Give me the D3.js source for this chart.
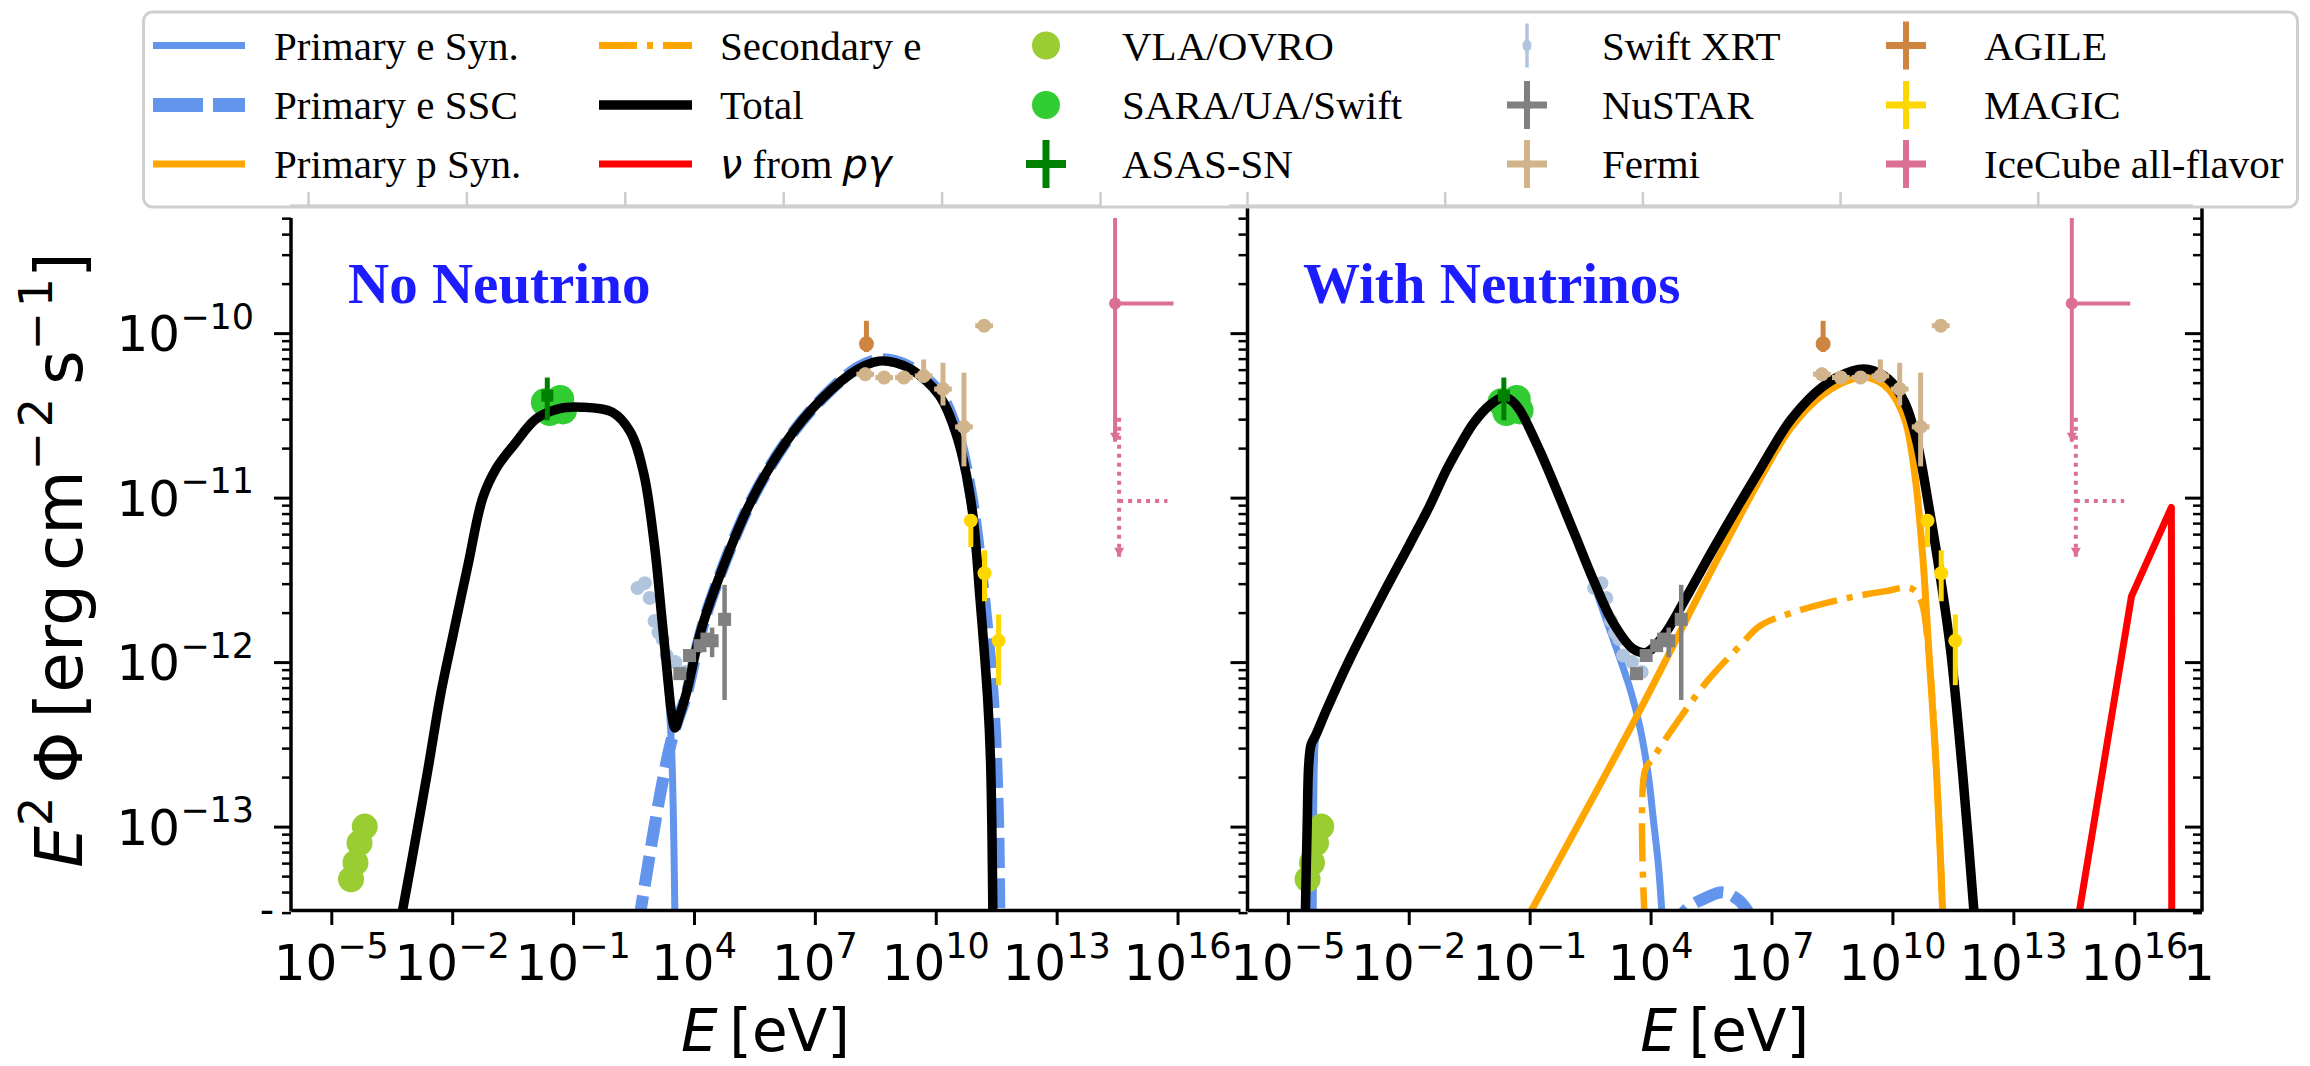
<!DOCTYPE html>
<html>
<head>
<meta charset="utf-8">
<script src="https://cdn.jsdelivr.net/npm/d3@7"></script>
<style>
  body { margin: 0; background: #fff; }
  svg { display: block; }
</style>
</head>
<body>
<svg id="fig" width="2310" height="1066"></svg>
<script>
// ---------------------------------------------------------------
// Broadband SED of the flare: leptonic model vs. lepto-hadronic model.
// Curve points are [log10(E / eV), log10(E^2 Phi / erg cm^-2 s^-1)].
// ---------------------------------------------------------------

// axis ticks
const X_TICK_EXP = [-5, -2, 1, 4, 7, 10, 13, 16];
const X_TICK_LABELS = [["10","−5"],["10","−2"],["10","−1"],["10","4"],["10","7"],["10","10"],["10","13"],["10","16"]];
const Y_TICK_EXP = [-13, -12, -11, -10];
const Y_TICK_LABELS = [["10","−13"],["10","−12"],["10","−11"],["10","−10"]];

// ---- model curves, panel "No Neutrino" ----
const TOTAL_NO_NU = [[-3.30,-13.60],[-3.00,-13.20],[-2.60,-12.65],[-2.29,-12.20],[-2.00,-11.86],[-1.60,-11.40],
  [-1.24,-11.00],[-0.90,-10.82],[-0.47,-10.68],[0.09,-10.52],[0.64,-10.46],[1.19,-10.45],[1.97,-10.48],
  [2.42,-10.60],[2.75,-10.85],[3.02,-11.29],[3.19,-11.70],[3.35,-12.10],[3.45,-12.32],[3.53,-12.40],
  [3.65,-12.32],[3.81,-12.19],[4.16,-11.82],[4.51,-11.56],[5.40,-11.03],[6.29,-10.66],[7.17,-10.40],
  [8.06,-10.22],[8.59,-10.17],[9.00,-10.18],[9.39,-10.22],[10.09,-10.38],[10.54,-10.64],[10.89,-11.05],
  [11.10,-11.62],[11.29,-12.23],[11.36,-12.60],[11.42,-13.60]];
const SYN_NO_NU = [[-3.30,-13.60],[-3.00,-13.20],[-2.60,-12.65],[-2.29,-12.20],[-2.00,-11.86],[-1.60,-11.40],
  [-1.24,-11.00],[-0.90,-10.82],[-0.47,-10.68],[0.09,-10.52],[0.64,-10.46],[1.19,-10.45],[1.97,-10.48],
  [2.42,-10.60],[2.75,-10.85],[3.02,-11.29],[3.19,-11.72],[3.35,-12.15],[3.44,-12.50],[3.49,-12.95],[3.53,-13.60]];
const SSC_NO_NU = [[2.62,-13.60],[2.69,-13.49],[3.18,-12.78],[3.47,-12.45],[3.81,-12.20],[4.16,-11.83],
  [4.51,-11.56],[5.40,-11.03],[6.29,-10.66],[7.17,-10.40],[8.06,-10.21],[8.59,-10.16],[9.00,-10.17],
  [9.39,-10.21],[10.09,-10.36],[10.54,-10.61],[10.89,-11.00],[11.15,-11.50],[11.35,-12.00],[11.47,-12.43],
  [11.55,-13.00],[11.58,-13.60]];

// ---- model curves, panel "With Neutrinos" ----
const TOTAL_WITH_NU = [[-4.57,-13.60],[-4.52,-13.00],[-4.48,-12.62],[-4.42,-12.50],[-4.30,-12.44],[-4.04,-12.29],
  [-3.46,-11.98],[-2.71,-11.62],[-1.97,-11.28],[-1.50,-11.06],[-1.06,-10.83],[-0.70,-10.67],[-0.40,-10.55],
  [0.00,-10.44],[0.35,-10.39],[0.55,-10.41],[0.76,-10.47],[1.26,-10.72],[2.08,-11.20],[2.58,-11.50],
  [3.07,-11.76],[3.57,-11.92],[3.90,-11.94],[4.32,-11.84],[4.81,-11.64],[5.56,-11.31],[6.71,-10.83],
  [7.50,-10.52],[8.30,-10.32],[9.00,-10.23],[9.40,-10.22],[9.90,-10.28],[10.30,-10.42],[10.60,-10.65],
  [10.90,-11.05],[11.20,-11.50],[11.44,-11.92],[11.75,-12.70],[12.05,-13.60]];
const SYN_WITH_NU = [[-4.37,-13.60],[-4.36,-13.00],[-4.34,-12.60],[-4.30,-12.46],[-4.04,-12.30],[-3.46,-11.98],
  [-2.71,-11.62],[-1.97,-11.28],[-1.50,-11.06],[-1.06,-10.83],[-0.70,-10.67],[-0.40,-10.55],[0.00,-10.44],
  [0.35,-10.39],[0.55,-10.41],[0.76,-10.47],[1.26,-10.72],[2.08,-11.20],[2.58,-11.52],[2.91,-11.75],
  [3.20,-11.95],[3.50,-12.17],[3.74,-12.40],[3.95,-12.70],[4.07,-12.96],[4.20,-13.25],[4.30,-13.60]];
const SSC_WITH_NU = [[4.50,-13.65],[4.90,-13.50],[5.40,-13.43],[5.80,-13.40],[6.20,-13.45],[6.50,-13.55],[6.70,-13.65]];
const PSYN_WITH_NU = [[0.84,-13.60],[3.74,-12.29],[5.39,-11.50],[6.71,-10.89],[7.50,-10.57],[8.30,-10.37],
  [9.00,-10.28],[9.40,-10.27],[9.90,-10.34],[10.30,-10.52],[10.55,-10.85],[10.75,-11.35],[10.90,-11.92],
  [11.10,-12.70],[11.26,-13.60]];
const SEC_WITH_NU = [[3.86,-13.60],[3.86,-12.66],[4.07,-12.58],[4.56,-12.40],[5.39,-12.12],[6.22,-11.90],
  [6.71,-11.78],[7.50,-11.70],[8.70,-11.62],[9.80,-11.57],[10.45,-11.55],[10.70,-11.62],[10.90,-11.95],
  [11.10,-12.70],[11.26,-13.60]];
const NU_WITH_NU = [[14.58,-13.60],[15.93,-11.60],[16.92,-11.06],[16.93,-13.60]];

// ---- observations ----
const VLA_E = [-4.17, -4.30, -4.40, -4.51];
const VLA_F = [-13.00, -13.10, -13.22, -13.32];
const SARA_E = [0.30, 0.42, 0.55, 0.68, 0.75];
const SARA_F = [-10.42, -10.48, -10.44, -10.40, -10.47];
const ASASSN_E = [0.36];
const ASASSN_F = [-10.38];
const ASASSN_FLO = [-10.53];
const ASASSN_FHI = [-10.27];
const XRT_E = [2.60, 2.78, 2.90, 3.02, 3.12, 3.22, 3.32, 3.54, 3.78];
const XRT_F = [-11.55, -11.52, -11.61, -11.75, -11.82, -11.86, -11.96, -12.00, -12.06];
const XRT_FLO = [-11.58, -11.55, -11.64, -11.78, -11.85, -11.89, -11.99, -12.03, -12.09];
const XRT_FHI = [-11.52, -11.49, -11.58, -11.72, -11.79, -11.83, -11.93, -11.97, -12.03];
const NUSTAR_E = [3.65, 3.89, 4.15, 4.32, 4.45, 4.76];
const NUSTAR_F = [-12.07, -11.96, -11.90, -11.86, -11.87, -11.74];
const NUSTAR_FLO = [-12.10, -11.99, -11.93, -11.89, -11.97, -12.23];
const NUSTAR_FHI = [-12.04, -11.93, -11.87, -11.83, -11.79, -11.53];
const NUSTAR_ELO = [3.56, 3.79, 4.06, 4.24, 4.37, 4.70];
const NUSTAR_EHI = [3.74, 3.99, 4.24, 4.40, 4.53, 4.82];
const FERMI_E = [8.25, 8.72, 9.21, 9.70, 10.18, 10.70, 11.20];
const FERMI_F = [-10.25, -10.27, -10.27, -10.26, -10.34, -10.57, -9.955];
const FERMI_FLO = [-10.29, -10.31, -10.31, -10.30, -10.44, -10.81, -9.97];
const FERMI_FHI = [-10.21, -10.23, -10.23, -10.16, -10.18, -10.24, -9.94];
const FERMI_ELO = [8.03, 8.50, 8.99, 9.48, 9.96, 10.48, 10.98];
const FERMI_EHI = [8.47, 8.94, 9.43, 9.92, 10.40, 10.92, 11.42];
const AGILE_E = [8.28];
const AGILE_F = [-10.065];
const AGILE_FLO = [-10.115];
const AGILE_FHI = [-9.925];
const MAGIC_E = [10.87, 11.21, 11.56];
const MAGIC_F = [-11.14, -11.46, -11.87];
const MAGIC_FLO = [-11.30, -11.63, -12.14];
const MAGIC_FHI = [-11.10, -11.32, -11.71];
const MAGIC_ELO = [10.82, 11.16, 11.51];
const MAGIC_EHI = [10.92, 11.26, 11.61];
// IceCube all-flavour upper limits (solid and dotted estimates)
const ICECUBE_E = [14.45, 14.55];
const ICECUBE_F = [-9.82, -11.02];
const ICECUBE_FLO = [-10.66, -11.36];
const ICECUBE_FHI = [-8.90, -10.50];
const ICECUBE_EHI = [15.90, 15.75];

// ---- layout ----
const W = 2310, H = 1066;
const PANEL_TOP = 218, PANEL_BOTTOM = 910;
const LOG_F_MIN = -13.507, LOG_F_MAX = -9.30;
const SANS = "'DejaVu Sans', 'Bitstream Vera Sans', sans-serif";
const SERIF = "'Liberation Serif', 'Times New Roman', serif";

const COLORS = {
  syn: "#6495ed", ssc: "#6495ed", psyn: "#ffa500", sec: "#ffa500", total: "#000000", nu: "#ff0000",
  vla: "#9acd32", sara: "#32cd32", asassn: "#008000", xrt: "#b0c4de", nustar: "#808080",
  fermi: "#d2b48c", agile: "#cd853f", magic: "#ffd700", icecube: "#db7093", title: "#1c1cff"
};

const PANELS = [
  { id: "noNu", left: 291, right: 1240, eMaxExp: 17.55, title: "No Neutrino", titleX: 348, spineTop: 218, yLabels: true },
  { id: "withNu", left: 1247.5, right: 2202, eMaxExp: 17.68, title: "With Neutrinos", titleX: 1303, spineTop: 207, yLabels: false }
];

const svg = d3.select("#fig");
svg.append("rect").attr("width", W).attr("height", H).attr("fill", "#fff");
const defs = svg.append("defs");

function sci(textSel, pair, size) {
  textSel.append("tspan").text(pair[0]);
  textSel.append("tspan").attr("dy", -0.45 * size).attr("font-size", 0.7 * size).text(pair[1]);
}

function drawCurve(g, sx, sy, pts, opt) {
  const gen = d3.line()
    .x(d => sx(10 ** d[0]))
    .y(d => sy(10 ** d[1]))
    .curve(opt.linear ? d3.curveLinear : d3.curveCatmullRom.alpha(0.5));
  g.append("path")
    .attr("d", gen(pts))
    .attr("fill", "none")
    .attr("stroke", opt.color)
    .attr("stroke-width", opt.width)
    .attr("stroke-dasharray", opt.dash || null)
    .attr("stroke-linejoin", "round")
    .attr("stroke-linecap", opt.dash ? "butt" : "round");
}

function drawPoints(g, sx, sy, s) {
  s.e.forEach((le, i) => {
    const cx = sx(10 ** le), cy = sy(10 ** s.f[i]);
    if (s.fLo) {
      g.append("line").attr("x1", cx).attr("x2", cx)
        .attr("y1", sy(10 ** s.fLo[i])).attr("y2", sy(10 ** s.fHi[i]))
        .attr("stroke", s.color).attr("stroke-width", s.lw)
        .attr("stroke-dasharray", s.dash ? s.dash[i] : null);
    }
    if (s.eLo || s.eHi) {
      const x1 = s.eLo ? sx(10 ** s.eLo[i]) : cx;
      g.append("line").attr("x1", x1).attr("x2", sx(10 ** s.eHi[i]))
        .attr("y1", cy).attr("y2", cy)
        .attr("stroke", s.color).attr("stroke-width", s.lw)
        .attr("stroke-dasharray", s.dash ? s.dash[i] : null);
    }
    if (s.arrow) {
      const ay = sy(10 ** s.fLo[i]);
      g.append("path").attr("d", `M${cx - 5},${ay - 9}L${cx + 5},${ay - 9}L${cx},${ay}Z`).attr("fill", s.color);
    }
    if (s.marker === "circle" && (!s.noMarker || !s.noMarker[i])) {
      g.append("circle").attr("cx", cx).attr("cy", cy).attr("r", s.r).attr("fill", s.color);
    } else if (s.marker === "square") {
      g.append("rect").attr("x", cx - s.r).attr("y", cy - s.r).attr("width", 2 * s.r).attr("height", 2 * s.r).attr("fill", s.color);
    }
  });
}

// observation sets (shared by both panels)
const OBS_BACK = [
  { e: VLA_E, f: VLA_F, color: COLORS.vla, marker: "circle", r: 13 },
  { e: SARA_E, f: SARA_F, color: COLORS.sara, marker: "circle", r: 14 },
  { e: XRT_E, f: XRT_F, fLo: XRT_FLO, fHi: XRT_FHI, color: COLORS.xrt, marker: "circle", r: 7, lw: 3 }
];
const OBS_FRONT = [
  { e: NUSTAR_E, f: NUSTAR_F, fLo: NUSTAR_FLO, fHi: NUSTAR_FHI, eLo: NUSTAR_ELO, eHi: NUSTAR_EHI, color: COLORS.nustar, marker: "square", r: 6.5, lw: 4.5 },
  { e: ASASSN_E, f: ASASSN_F, fLo: ASASSN_FLO, fHi: ASASSN_FHI, color: COLORS.asassn, marker: "square", r: 6, lw: 5 },
  { e: FERMI_E, f: FERMI_F, fLo: FERMI_FLO, fHi: FERMI_FHI, eLo: FERMI_ELO, eHi: FERMI_EHI, color: COLORS.fermi, marker: "circle", r: 7, lw: 5 },
  { e: AGILE_E, f: AGILE_F, fLo: AGILE_FLO, fHi: AGILE_FHI, color: COLORS.agile, marker: "circle", r: 7.5, lw: 5 },
  { e: MAGIC_E, f: MAGIC_F, fLo: MAGIC_FLO, fHi: MAGIC_FHI, eLo: MAGIC_ELO, eHi: MAGIC_EHI, color: COLORS.magic, marker: "circle", r: 7, lw: 5 },
  { e: ICECUBE_E, f: ICECUBE_F, fLo: ICECUBE_FLO, fHi: ICECUBE_FHI, eHi: ICECUBE_EHI, color: COLORS.icecube, marker: "circle", r: 6, lw: 4, arrow: true, dash: [null, "4 5"], noMarker: [false, true] }
];

// hidden strip axes that sit under the legend (ticks seen through it)
const STRIPS = [{ from: 308, to: 1100, ticks: [0, 0.2, 0.4, 0.6, 0.8, 1.0] }, { from: 1247, to: 2235.5, ticks: [0, 0.2, 0.4, 0.6, 0.8] }];
STRIPS.forEach(st => {
  const s = d3.scaleLinear().domain([0, 1]).range([st.from, st.to]);
  const g = svg.append("g").attr("transform", `translate(0,206)`)
    .call(d3.axisTop(s).tickValues(st.ticks).tickSize(14).tickSizeOuter(0).tickFormat(""));
  g.select(".domain").attr("stroke-width", 3).attr("d", `M${st.from - 18},0H${Math.min(st.to, 2193)}`);
  g.selectAll(".tick line").attr("stroke-width", 2.5);
});

PANELS.forEach(p => {
  const sx = d3.scaleLog().domain([1e-6, 10 ** p.eMaxExp]).range([p.left, p.right]);
  const sy = d3.scaleLog().domain([10 ** LOG_F_MIN, 10 ** LOG_F_MAX]).range([PANEL_BOTTOM, PANEL_TOP]);

  defs.append("clipPath").attr("id", "clip-" + p.id)
    .append("rect").attr("x", p.left).attr("y", PANEL_TOP).attr("width", p.right - p.left).attr("height", PANEL_BOTTOM - PANEL_TOP);
  const plot = svg.append("g").attr("clip-path", `url(#clip-${p.id})`);

  if (p.id === "noNu") {
    drawCurve(plot, sx, sy, SSC_NO_NU, { color: COLORS.ssc, width: 12, dash: "30 10" });
    drawCurve(plot, sx, sy, SYN_NO_NU, { color: COLORS.syn, width: 7 });
  } else {
    drawCurve(plot, sx, sy, SSC_WITH_NU, { color: COLORS.ssc, width: 12, dash: "30 10" });
    drawCurve(plot, sx, sy, SYN_WITH_NU, { color: COLORS.syn, width: 7 });
    drawCurve(plot, sx, sy, SEC_WITH_NU, { color: COLORS.sec, width: 6.5, dash: "38 10 6 10" });
    drawCurve(plot, sx, sy, PSYN_WITH_NU, { color: COLORS.psyn, width: 7 });
    drawCurve(plot, sx, sy, NU_WITH_NU, { color: COLORS.nu, width: 7, linear: true });
  }
  OBS_BACK.forEach(s => drawPoints(plot, sx, sy, s));
  drawCurve(plot, sx, sy, p.id === "noNu" ? TOTAL_NO_NU : TOTAL_WITH_NU, { color: COLORS.total, width: 9.5 });
  OBS_FRONT.forEach(s => drawPoints(plot, sx, sy, s));

  // panel title
  svg.append("text").attr("x", p.titleX).attr("y", 303)
    .attr("font-family", SERIF).attr("font-weight", "bold").attr("font-size", 57)
    .attr("fill", COLORS.title).text(p.title);

  // x axis
  const xa = svg.append("g").attr("transform", `translate(0,${PANEL_BOTTOM})`)
    .call(d3.axisBottom(sx).tickValues(X_TICK_EXP.map(e => 10 ** e)).tickSize(15).tickSizeOuter(0).tickFormat(""));
  xa.select(".domain").attr("stroke-width", 3.5);
  xa.selectAll(".tick line").attr("stroke-width", 3);
  X_TICK_EXP.forEach((e, i) => {
    const t = svg.append("text").attr("x", sx(10 ** e)).attr("y", 980)
      .attr("text-anchor", "middle").attr("font-family", SANS).attr("font-size", 50);
    sci(t, X_TICK_LABELS[i], 50);
  });
  const xl = svg.append("text").attr("x", (p.left + p.right) / 2).attr("y", 1051)
    .attr("text-anchor", "middle").attr("font-family", SANS).attr("font-size", 58);
  xl.append("tspan").attr("font-style", "italic").text("E");
  xl.append("tspan").text("\u2009[eV]");

  // y axes (spines with outward ticks)
  const yMinor = [];
  for (let d = -14; d <= -10; d++) for (let m = 2; m <= 9; m++) {
    const v = m * 10 ** d;
    if (v >= 10 ** LOG_F_MIN * 0.95 && v <= 10 ** LOG_F_MAX * 1.02) yMinor.push(v);
  }
  const spineXs = p.id === "noNu" ? [p.left] : [p.left, p.right];
  spineXs.forEach(xs => {
    const gm = svg.append("g").attr("transform", `translate(${xs},0)`)
      .call(d3.axisLeft(sy).tickValues(yMinor).tickSize(9).tickSizeOuter(0).tickFormat(""));
    gm.select(".domain").remove();
    gm.selectAll(".tick line").attr("stroke-width", 2.5);
    const gM = svg.append("g").attr("transform", `translate(${xs},0)`)
      .call(d3.axisLeft(sy).tickValues(Y_TICK_EXP.map(e => 10 ** e)).tickSize(17).tickSizeOuter(0).tickFormat(""));
    gM.select(".domain").remove();
    gM.selectAll(".tick line").attr("stroke-width", 3);
    svg.append("line").attr("x1", xs).attr("x2", xs).attr("y1", p.spineTop).attr("y2", PANEL_BOTTOM + 1.5)
      .attr("stroke", "#000").attr("stroke-width", 3.5);
  });
  if (p.yLabels) {
    Y_TICK_EXP.forEach((e, i) => {
      const t = svg.append("text").attr("x", p.left - 37).attr("y", sy(10 ** e) + 18)
        .attr("text-anchor", "end").attr("font-family", SANS).attr("font-size", 50);
      sci(t, Y_TICK_LABELS[i], 50);
    });
    svg.append("text").attr("x", p.left - 24).attr("y", PANEL_BOTTOM + 14)
      .attr("text-anchor", "middle").attr("font-family", SANS).attr("font-size", 40).text("-");
  } else {
    svg.append("text").attr("x", 2183).attr("y", 980)
      .attr("font-family", SANS).attr("font-size", 50).text("1");
  }
});

// y-axis title
const yl = svg.append("text").attr("transform", "translate(82,560) rotate(-90)")
  .attr("text-anchor", "middle").attr("font-family", SANS).attr("font-size", 66);
yl.append("tspan").attr("font-style", "italic").text("E");
yl.append("tspan").attr("dy", -30).attr("font-size", 46).text("2");
yl.append("tspan").attr("dy", 30).text("\u2009\u03a6\u2009[erg\u2009cm");
yl.append("tspan").attr("dy", -30).attr("font-size", 46).text("\u2212\u200a2");
yl.append("tspan").attr("dy", 30).text("\u2009s");
yl.append("tspan").attr("dy", -30).attr("font-size", 46).text("\u2212\u200a1");
yl.append("tspan").attr("dy", 30).text("]");

// ---- legend ----
const LEGEND_ITEMS = [
  { label: [["Primary e Syn."]], kind: "line", color: COLORS.syn, width: 7 },
  { label: [["Primary e SSC"]], kind: "line", color: COLORS.ssc, width: 14, dash: "50 10" },
  { label: [["Primary p Syn."]], kind: "line", color: COLORS.psyn, width: 7 },
  { label: [["Secondary e"]], kind: "line", color: COLORS.sec, width: 7, dash: "38 10 6 10" },
  { label: [["Total"]], kind: "line", color: COLORS.total, width: 9.5 },
  { label: [["\u03bd", "m"], [" from "], ["p\u03b3", "m"]], kind: "line", color: COLORS.nu, width: 7 },
  { label: [["VLA/OVRO"]], kind: "dot", color: COLORS.vla, r: 14 },
  { label: [["SARA/UA/Swift"]], kind: "dot", color: COLORS.sara, r: 14 },
  { label: [["ASAS-SN"]], kind: "cross", color: COLORS.asassn, lw: 7 },
  { label: [["Swift XRT"]], kind: "thin", color: COLORS.xrt },
  { label: [["NuSTAR"]], kind: "cross", color: COLORS.nustar, lw: 6 },
  { label: [["Fermi"]], kind: "cross", color: COLORS.fermi, lw: 6 },
  { label: [["AGILE"]], kind: "cross", color: COLORS.agile, lw: 6 },
  { label: [["MAGIC"]], kind: "cross", color: COLORS.magic, lw: 6 },
  { label: [["IceCube all-flavor"]], kind: "cross", color: COLORS.icecube, lw: 6 }
];
const LEG_ROW_Y = [45.5, 105, 164];
const LEG_HANDLE_X = [[153, 245], [599, 692], 1046, 1527, 1906];
const LEG_TEXT_X = [274, 720, 1122, 1602, 1984];

svg.append("rect").attr("x", 143.5).attr("y", 12).attr("width", 2154).attr("height", 195)
  .attr("rx", 9).attr("fill", "#fff").attr("fill-opacity", 0.8)
  .attr("stroke", "#cfcfcf").attr("stroke-width", 3);

const leg = svg.append("g");
LEGEND_ITEMS.forEach((it, k) => {
  const col = Math.floor(k / 3), row = k % 3;
  const cy = LEG_ROW_Y[row];
  const hx = LEG_HANDLE_X[col];
  if (it.kind === "line") {
    leg.append("line").attr("x1", hx[0]).attr("x2", hx[1]).attr("y1", cy).attr("y2", cy)
      .attr("stroke", it.color).attr("stroke-width", it.width).attr("stroke-dasharray", it.dash || null);
  } else if (it.kind === "dot") {
    leg.append("circle").attr("cx", hx).attr("cy", cy).attr("r", it.r).attr("fill", it.color);
  } else if (it.kind === "cross") {
    leg.append("line").attr("x1", hx).attr("x2", hx).attr("y1", cy - 24).attr("y2", cy + 24)
      .attr("stroke", it.color).attr("stroke-width", it.lw);
    leg.append("line").attr("x1", hx - 20).attr("x2", hx + 20).attr("y1", cy).attr("y2", cy)
      .attr("stroke", it.color).attr("stroke-width", it.lw + 1);
    leg.append("circle").attr("cx", hx).attr("cy", cy).attr("r", 5).attr("fill", it.color);
  } else if (it.kind === "thin") {
    leg.append("line").attr("x1", hx).attr("x2", hx).attr("y1", cy - 22).attr("y2", cy + 22)
      .attr("stroke", it.color).attr("stroke-width", 3.5);
    leg.append("ellipse").attr("cx", hx).attr("cy", cy).attr("rx", 4.5).attr("ry", 6).attr("fill", it.color);
  }
  const t = leg.append("text").attr("x", LEG_TEXT_X[col]).attr("y", cy + 14)
    .attr("font-family", SERIF).attr("font-size", 41).attr("fill", "#000");
  it.label.forEach(seg => {
    const ts = t.append("tspan").text(seg[0]);
    if (seg[1] === "m") ts.attr("font-family", SANS).attr("font-style", "italic").attr("font-size", 40);
  });
});
</script>
</body>
</html>
